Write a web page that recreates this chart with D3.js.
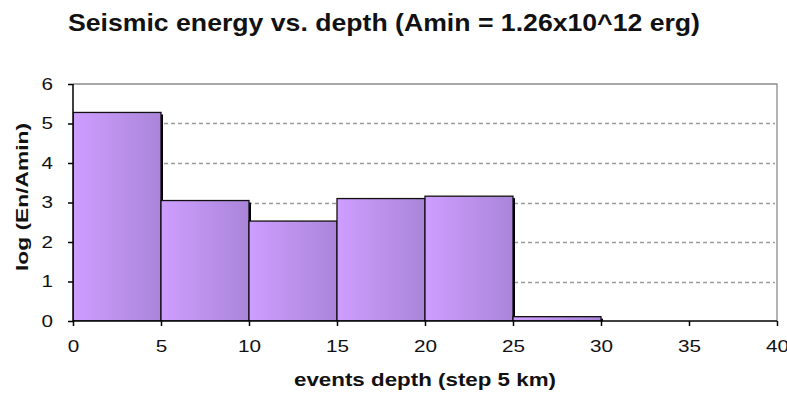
<!DOCTYPE html>
<html>
<head>
<meta charset="utf-8">
<script src="https://cdn.jsdelivr.net/npm/d3@7"></script>
<style>
  html, body { margin: 0; padding: 0; background: #fff; }
  svg { display: block; font-family: "Liberation Sans", Arial, sans-serif; }
</style>
</head>
<body>
<svg id="chart" width="787" height="394"></svg>
<script>
// Depth bins (km, lower edge) and log energy ratio per bin
const binStart = [0, 5, 10, 15, 20, 25];
const binWidth = 5;
const logEnergy = [5.28, 3.05, 2.53, 3.10, 3.16, 0.11];
const xTicks = [0, 5, 10, 15, 20, 25, 30, 35, 40];
const yTicks = [0, 1, 2, 3, 4, 5, 6];
const gridLevels = [1, 2, 3, 4, 5];

const titleText = "Seismic energy vs. depth (Amin = 1.26x10^12 erg)";
const xLabel = "events depth (step 5 km)";
const yLabel = "log (En/Amin)";

const svg = d3.select("#chart");
const plotL = 73, plotR = 777, plotT = 84, plotB = 321;

const x = d3.scaleLinear().domain([0, 40]).range([plotL, plotR]);
const y = d3.scaleLinear().domain([0, 6]).range([plotB, plotT]);

// gradient fill for the bars
const defs = svg.append("defs");
const grad = defs.append("linearGradient").attr("id", "barGrad")
  .attr("x1", "0%").attr("x2", "100%").attr("y1", "0%").attr("y2", "0%");
grad.append("stop").attr("offset", "0%").attr("stop-color", "#cf9eff");
grad.append("stop").attr("offset", "100%").attr("stop-color", "#a985d9");

defs.append("clipPath").attr("id", "plotClip")
  .append("rect").attr("x", plotL).attr("y", plotT - 5)
  .attr("width", plotR - plotL + 5).attr("height", plotB - plotT + 5);

// plot frame (top and right)
svg.append("path")
  .attr("d", `M${plotL},${plotT}H${plotR}V${plotB}`)
  .attr("fill", "none").attr("stroke", "#8c8c8c").attr("stroke-width", 1.3);

// dashed gridlines
svg.append("g").selectAll("line").data(gridLevels).join("line")
  .attr("x1", plotL).attr("x2", plotR - 2)
  .attr("y1", d => Math.round(y(d)) + 0.5).attr("y2", d => Math.round(y(d)) + 0.5)
  .attr("stroke", "#9a9a9a").attr("stroke-width", 1.3)
  .attr("stroke-dasharray", "4,3");

const bars = svg.append("g").attr("clip-path", "url(#plotClip)");
const data = binStart.map((s, i) => ({ s, v: logEnergy[i] }));

// drop shadows
bars.selectAll("rect.shadow").data(data).join("rect")
  .attr("class", "shadow")
  .attr("x", d => x(d.s) + 2)
  .attr("y", d => y(d.v) + 2)
  .attr("width", d => x(d.s + binWidth) - x(d.s))
  .attr("height", d => y(0) - y(d.v))
  .attr("fill", "#000");

// bars
bars.selectAll("rect.bar").data(data).join("rect")
  .attr("class", "bar")
  .attr("x", d => x(d.s))
  .attr("y", d => y(d.v))
  .attr("width", d => x(d.s + binWidth) - x(d.s))
  .attr("height", d => y(0) - y(d.v))
  .attr("fill", "url(#barGrad)")
  .attr("stroke", "#111").attr("stroke-width", 1.3);

// axes
const xAxis = svg.append("g").attr("transform", `translate(0,${plotB})`)
  .call(d3.axisBottom(x).tickValues(xTicks).tickFormat(d3.format("d"))
    .tickSize(5).tickPadding(8));
const yAxis = svg.append("g").attr("transform", `translate(${plotL},0)`)
  .call(d3.axisLeft(y).tickValues(yTicks).tickFormat(d3.format("d"))
    .tickSize(5).tickPadding(15));

[xAxis, yAxis].forEach(g => {
  g.select(".domain").attr("stroke", "#000").attr("stroke-width", 1.5);
  g.selectAll(".tick line").attr("stroke", "#000").attr("stroke-width", 1.5);
  g.selectAll(".tick text")
    .attr("font-family", "Liberation Sans, Arial, sans-serif")
    .attr("font-size", 17).attr("fill", "#111")
    .attr("textLength", d => String(d).length * 11.5)
    .attr("lengthAdjust", "spacingAndGlyphs");
});
xAxis.selectAll(".tick text").attr("y", 31).attr("dy", 0);
xAxis.select(".domain").attr("d", `M${plotL},0H${plotR}`);
yAxis.select(".domain").attr("d", `M0,${plotT}V${plotB}`);

// title and axis labels
svg.append("text")
  .attr("x", 384).attr("y", 31)
  .attr("text-anchor", "middle")
  .attr("font-size", 24).attr("font-weight", "bold").attr("fill", "#111")
  .attr("textLength", 632).attr("lengthAdjust", "spacingAndGlyphs")
  .text(titleText);

svg.append("text")
  .attr("x", 425).attr("y", 386)
  .attr("text-anchor", "middle")
  .attr("font-size", 18).attr("font-weight", "bold").attr("fill", "#111")
  .attr("textLength", 262).attr("lengthAdjust", "spacingAndGlyphs")
  .text(xLabel);

svg.append("text")
  .attr("transform", "translate(28,197) rotate(-90)")
  .attr("text-anchor", "middle")
  .attr("font-size", 17).attr("font-weight", "bold").attr("fill", "#111")
  .attr("textLength", 148).attr("lengthAdjust", "spacingAndGlyphs")
  .text(yLabel);
</script>
</body>
</html>
